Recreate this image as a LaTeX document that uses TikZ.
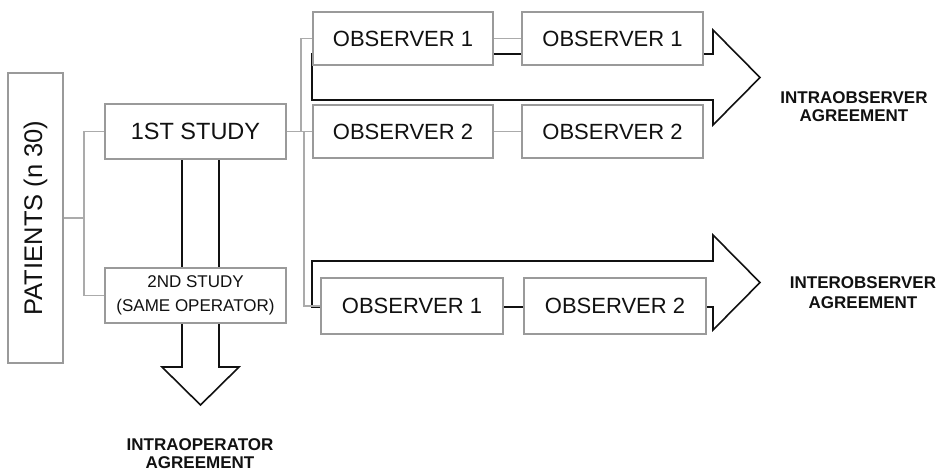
\documentclass[tikz,border=0pt]{standalone}
\usepackage{fontspec}
\setmainfont{Liberation Sans}
\usetikzlibrary{backgrounds}
\definecolor{boxgray}{HTML}{9A9A9A}
\definecolor{linkgray}{HTML}{ABABAB}
\definecolor{ink}{HTML}{111111}
\begin{document}
\begin{tikzpicture}[x=1pt,y=-1pt,
  box/.style={draw=boxgray, line width=2pt, fill=white, inner sep=0pt, text=ink, align=center},
  link/.style={draw=linkgray, line width=1.5pt},
  bigarrow/.style={draw=ink, line width=1.6pt, fill=white, line join=miter},
  lbl/.style={text=ink, font=\bfseries\fontsize{17}{18}\selectfont, align=center}]
\useasboundingbox (0,0) rectangle (944,471);

% boxes
\node[box, minimum width=55, minimum height=290] (pat) at (35.5,218)
  {\fontsize{25.5}{30}\selectfont\rotatebox{90}{PATIENTS (n 30)}};
\node[box, minimum width=181, minimum height=55, font=\fontsize{23.5}{27}\selectfont] (s1) at (195.5,131.5) {1ST STUDY};
\node[box, minimum width=181, minimum height=55, font=\fontsize{17}{24}\selectfont] (s2) at (195.5,295.5) {2ND STUDY\\(SAME OPERATOR)};

\tikzset{obs/.style={box, minimum width=180, minimum height=53, font=\fontsize{22}{26}\selectfont}}
\node[obs] (o11) at (403,38.5) {OBSERVER 1};
\node[obs, minimum width=181] (o12) at (612.5,38.5) {OBSERVER 1};
\node[obs] (o21) at (403,131.5) {OBSERVER 2};
\node[obs, minimum width=181] (o22) at (612.5,131.5) {OBSERVER 2};
\node[obs, minimum width=182, minimum height=56] (b1) at (412,306) {OBSERVER 1};
\node[obs, minimum width=182, minimum height=56] (b2) at (615,306) {OBSERVER 2};

% junction points of the connectors
\coordinate (j1) at (84,218);
\coordinate (j2) at (301,132);
\coordinate (j3) at (304,132);

\begin{scope}[on background layer]
  % outlined block arrows
  \draw[bigarrow] (312,54) -- (713,54) -- (713,30) -- (760,77.5) -- (713,125)
    -- (713,100) -- (312,100) -- cycle;
  \draw[bigarrow] (312,261) -- (713,261) -- (713,235) -- (760,282.5) -- (713,330)
    -- (713,307) -- (312,307) -- cycle;
  \draw[bigarrow] (182,132) -- (182,367) -- (162,367) -- (200.5,405) -- (239,367)
    -- (219,367) -- (219,132) -- cycle;
  % connectors
  \draw[link] (pat.east) -- (j1);
  \draw[link] (s1.west) -| (j1);
  \draw[link] (s2.west) -| (j1);
  \draw[link] (s1.east) -- (o21.west);
  \draw[link] (o11.west) -| (j2);
  \draw[link] (b1.west) -| (j3);
  \draw[link] (o11.east) -- (o12.west);
  \draw[link] (o21.east) -- (o22.west);
\end{scope}

% outcome labels
\node[lbl] (intraobs) at (854,107) {INTRAOBSERVER\\AGREEMENT};
\node[lbl] (interobs) at (863,293) {INTEROBSERVER\\[2pt]AGREEMENT};
\node[lbl] (intraop) at (200,454) {INTRAOPERATOR\\AGREEMENT};
\end{tikzpicture}
\end{document}
